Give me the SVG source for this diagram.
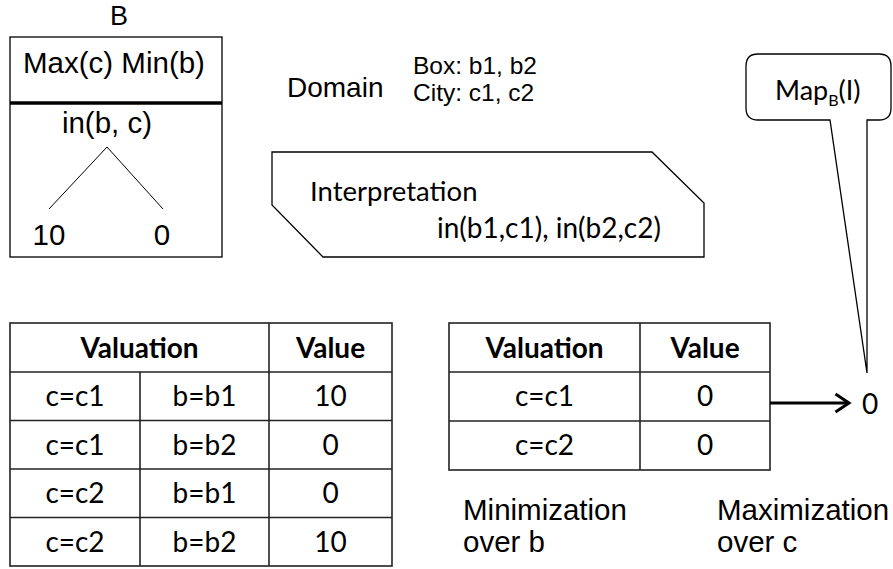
<svg xmlns="http://www.w3.org/2000/svg" width="893" height="569" viewBox="0 0 893 569">
  <style>
    .sans { font-family: "Liberation Sans", Arial, sans-serif; fill: #000; }
    .cal { font-family: Lato, "Noto Sans", sans-serif; fill: #000; }
    .hdr { font-family: Lato, "Noto Sans", sans-serif; font-weight: bold; fill: #000; font-size: 28px; }
    .cell { font-family: Lato, "Noto Sans", sans-serif; fill: #000; font-size: 28px; }
    .box { fill: #fff; stroke: #000; stroke-width: 1.3; }
    .grid { fill: none; stroke: #222; stroke-width: 1.6; }
    .thin { fill: none; stroke: #000; stroke-width: 1; }
  </style>
  <defs>
    <marker id="chev" markerWidth="8" markerHeight="8" refX="6" refY="4" orient="auto" markerUnits="strokeWidth">
      <path d="M1.5,1 L6,4 L1.5,7" fill="none" stroke="#000" stroke-width="1"/>
    </marker>
  </defs>

  <rect width="893" height="569" fill="#fff"/>

  <!-- Model B: header with operators, body with decision tree -->
  <g id="node-B">
    <text class="sans" x="119" y="25" font-size="27" text-anchor="middle">B</text>
    <rect class="box" x="10" y="37" width="212" height="220"/>
    <line x1="10" y1="103" x2="222" y2="103" stroke="#000" stroke-width="3.5"/>
    <text class="sans" x="114" y="73" font-size="29.5" text-anchor="middle">Max(c) Min(b)</text>
    <text class="sans" x="107" y="133" font-size="29.5" text-anchor="middle">in(b, c)</text>
    <line class="thin" x1="107" y1="147" x2="49" y2="209"/>
    <line class="thin" x1="107" y1="147" x2="163" y2="209"/>
    <text class="sans" x="49" y="245" font-size="29.5" text-anchor="middle">10</text>
    <text class="sans" x="162" y="245" font-size="29.5" text-anchor="middle">0</text>
  </g>

  <!-- Domain -->
  <g id="node-domain">
    <text class="sans" x="287" y="97" font-size="28">Domain</text>
    <text class="sans" x="413" y="74" font-size="24.5">Box: b1, b2</text>
    <text class="sans" x="413" y="101" font-size="24.5">City: c1, c2</text>
  </g>

  <!-- Interpretation -->
  <g id="node-interpretation">
    <polygon class="box" points="272,152 652,152 704,203 704,257 323,257 272,205"/>
    <text class="cal" x="310" y="201" font-size="27.5">Interpretation</text>
    <text class="cal" x="437" y="238" font-size="28">in(b1,c1), in(b2,c2)</text>
  </g>

  <!-- Full valuation table -->
  <g id="node-table-full">
    <rect class="grid" x="10" y="323" width="382" height="243"/>
    <line class="grid" x1="10" y1="372" x2="392" y2="372"/>
    <line class="grid" x1="10" y1="420.5" x2="392" y2="420.5"/>
    <line class="grid" x1="10" y1="469" x2="392" y2="469"/>
    <line class="grid" x1="10" y1="517.5" x2="392" y2="517.5"/>
    <line class="grid" x1="140" y1="372" x2="140" y2="566"/>
    <line class="grid" x1="269" y1="323" x2="269" y2="566"/>
    <text class="hdr" x="139.5" y="358" text-anchor="middle">Valuation</text>
    <text class="hdr" x="330.5" y="358" text-anchor="middle">Value</text>
    <g class="cell" text-anchor="middle">
      <text x="75" y="406">c=c1</text><text x="204.5" y="406">b=b1</text><text x="330.5" y="406">10</text>
      <text x="75" y="455">c=c1</text><text x="204.5" y="455">b=b2</text><text x="330.5" y="455">0</text>
      <text x="75" y="503">c=c2</text><text x="204.5" y="503">b=b1</text><text x="330.5" y="503">0</text>
      <text x="75" y="552">c=c2</text><text x="204.5" y="552">b=b2</text><text x="330.5" y="552">10</text>
    </g>
  </g>

  <!-- Table after minimization over b -->
  <g id="node-table-min">
    <rect class="grid" x="449" y="323" width="321" height="147"/>
    <line class="grid" x1="449" y1="372" x2="770" y2="372"/>
    <line class="grid" x1="449" y1="421" x2="770" y2="421"/>
    <line class="grid" x1="640" y1="323" x2="640" y2="470"/>
    <text class="hdr" x="544.5" y="358" text-anchor="middle">Valuation</text>
    <text class="hdr" x="705" y="358" text-anchor="middle">Value</text>
    <g class="cell" text-anchor="middle">
      <text x="544.5" y="406">c=c1</text><text x="705" y="406">0</text>
      <text x="544.5" y="455">c=c2</text><text x="705" y="455">0</text>
    </g>
  </g>

  <!-- Result of maximization over c -->
  <g id="node-result">
    <text class="cal" x="862" y="414" font-size="28">0</text>
  </g>

  <!-- Callout naming the result -->
  <g id="node-callout">
    <path class="box" stroke="#333" d="M758,54 H879 Q891,54 891,66 V108 Q891,120 879,120 H867 L867,373 L830,120 H758 Q746,120 746,108 V66 Q746,54 758,54 Z"/>
    <text class="cal" x="775" y="100" font-size="27">Map<tspan font-size="16" dy="6">B</tspan><tspan dy="-6">(I)</tspan></text>
  </g>

  <!-- Step labels -->
  <g id="labels">
    <text class="sans" x="463" y="520" font-size="29.5">Minimization</text>
    <text class="sans" x="463" y="552" font-size="29.5">over b</text>
    <text class="sans" x="717" y="520" font-size="29.5">Maximization</text>
    <text class="sans" x="717" y="552" font-size="29.5">over c</text>
  </g>

  <!-- Connectors -->
  <g id="connectors">
    <line x1="770" y1="403" x2="849" y2="403" stroke="#000" stroke-width="3" marker-end="url(#chev)"/>
  </g>
</svg>
